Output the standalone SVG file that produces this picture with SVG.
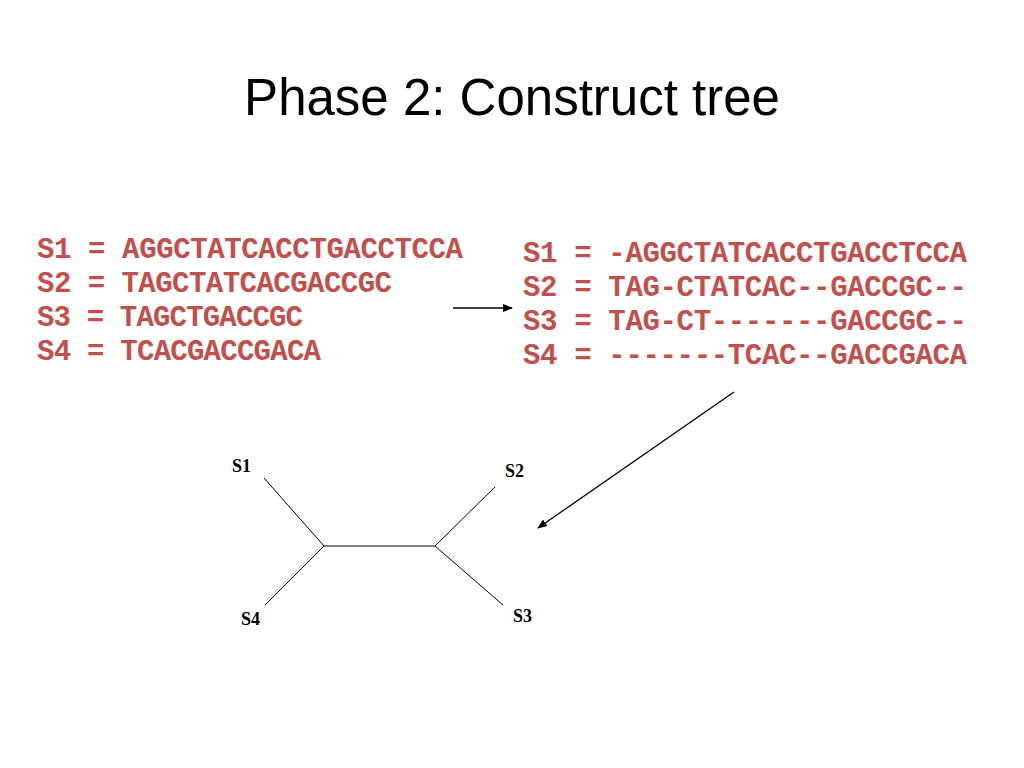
<svg xmlns="http://www.w3.org/2000/svg" width="1024" height="768" viewBox="0 0 1024 768">
<style>
.seq{font-family:"Liberation Mono","Courier New",monospace;font-weight:bold;font-size:29px;fill:#c0504d;white-space:pre}
.lab{font-family:"Liberation Serif","Times New Roman",serif;font-weight:bold;font-size:18px;fill:#000}
.edge{stroke:#000;stroke-width:1;fill:none}
.arr{stroke:#000;stroke-width:1.3;fill:none;marker-end:url(#ah)}
</style>
<defs>
<marker id="ah" markerWidth="10" markerHeight="8" refX="9" refY="4" orient="auto" markerUnits="userSpaceOnUse">
<path d="M0,0 L10,4 L0,8 Z" fill="#000"/>
</marker>
</defs>
<rect width="1024" height="768" fill="#fff"/>
<text x="512" y="115" text-anchor="middle" font-family="Liberation Sans, Arial, sans-serif" font-size="51" fill="#000">Phase 2: Construct tree</text>
<g id="input-seqs">
<text class="seq" x="37" y="258" textLength="426" lengthAdjust="spacing" xml:space="preserve">S1 = AGGCTATCACCTGACCTCCA</text>
<text class="seq" x="37" y="292" textLength="355" lengthAdjust="spacing" xml:space="preserve">S2 = TAGCTATCACGACCGC</text>
<text class="seq" x="37" y="326" textLength="266" lengthAdjust="spacing" xml:space="preserve">S3 = TAGCTGACCGC</text>
<text class="seq" x="37" y="360" textLength="284" lengthAdjust="spacing" xml:space="preserve">S4 = TCACGACCGACA</text>
</g>
<g id="aligned-seqs">
<text class="seq" x="523" y="262" textLength="444" lengthAdjust="spacing" xml:space="preserve">S1 = -AGGCTATCACCTGACCTCCA</text>
<text class="seq" x="523" y="296" textLength="444" lengthAdjust="spacing" xml:space="preserve">S2 = TAG-CTATCAC--GACCGC--</text>
<text class="seq" x="523" y="330" textLength="444" lengthAdjust="spacing" xml:space="preserve">S3 = TAG-CT-------GACCGC--</text>
<text class="seq" x="523" y="364" textLength="444" lengthAdjust="spacing" xml:space="preserve">S4 = -------TCAC--GACCGACA</text>
</g>
<g id="tree">
<line class="edge" x1="264" y1="478" x2="324" y2="546"/>
<line class="edge" x1="265" y1="605" x2="324" y2="546"/>
<line class="edge" x1="324" y1="546" x2="435" y2="546"/>
<line class="edge" x1="435" y1="546" x2="495" y2="487"/>
<line class="edge" x1="435" y1="546" x2="503" y2="605"/>
</g>
<g id="node-S1"><text class="lab" x="232" y="472">S1</text></g>
<g id="node-S2"><text class="lab" x="505" y="477">S2</text></g>
<g id="node-S3"><text class="lab" x="513" y="622">S3</text></g>
<g id="node-S4"><text class="lab" x="241" y="625">S4</text></g>
<g id="connectors">
<line class="arr" x1="453" y1="308" x2="512" y2="308"/>
<line class="arr" x1="734" y1="392" x2="538" y2="528"/>
</g>
</svg>
